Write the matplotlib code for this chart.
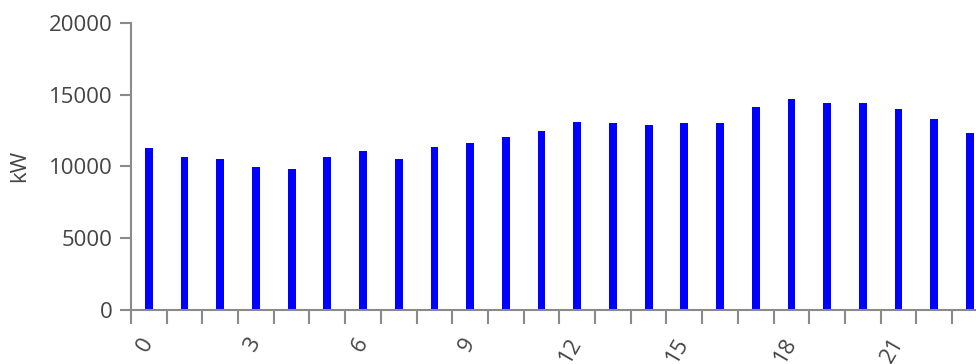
import numpy as np
import matplotlib.pyplot as plt
from matplotlib.ticker import FixedLocator

# hourly load profile [kW]
hours = np.arange(24)
load_kw = [11300, 10640, 10500, 9950, 9815, 10640, 11070, 10500,
           11330, 11620, 12040, 12430, 13110, 13000, 12860, 13000,
           13000, 14120, 14700, 14400, 14400, 13990, 13300, 12310]
label_hours = [0, 3, 6, 9, 12, 15, 18, 21]
y_ticks = [0, 5000, 10000, 15000, 20000]

AXIS_COLOR = "#8a8a8a"
TEXT_COLOR = "#444444"

plt.rcParams["font.family"] = ["Open Sans", "DejaVu Sans"]

fig = plt.figure(figsize=(9.76, 3.64), dpi=100)
ax = fig.add_axes([131 / 976, 1 - 310 / 364, 1 - 131 / 976, (310 - 22.7) / 364])

ax.bar(hours, load_kw, width=0.22, color="#0000ff")

ax.set_xlim(-0.5, 23.17)
ax.set_ylim(0, 20000)

for side in ["top", "right"]:
    ax.spines[side].set_visible(False)
for side in ["left", "bottom"]:
    ax.spines[side].set_color(AXIS_COLOR)
    ax.spines[side].set_linewidth(1.5)

# tick marks on band edges, labels on bar centres
ax.xaxis.set_minor_locator(FixedLocator(np.arange(24) - 0.5))
ax.set_xticks(label_hours)
ax.set_xticklabels([str(h) for h in label_hours], rotation=60,
                   ha="right", va="center", rotation_mode="anchor")
ax.tick_params(axis="x", which="major", length=0, pad=21,
               labelsize=16, labelcolor=TEXT_COLOR)
ax.tick_params(axis="x", which="minor", length=10, width=1.5,
               color=AXIS_COLOR)

ax.set_yticks(y_ticks)
ax.set_yticklabels([str(v) for v in y_ticks])
ax.tick_params(axis="y", length=8, width=1.5, color=AXIS_COLOR,
               labelsize=16, labelcolor=TEXT_COLOR, pad=5)

ax.set_ylabel("kW", fontsize=16, color=TEXT_COLOR, labelpad=14)

fig.savefig("out.png", dpi=100)
